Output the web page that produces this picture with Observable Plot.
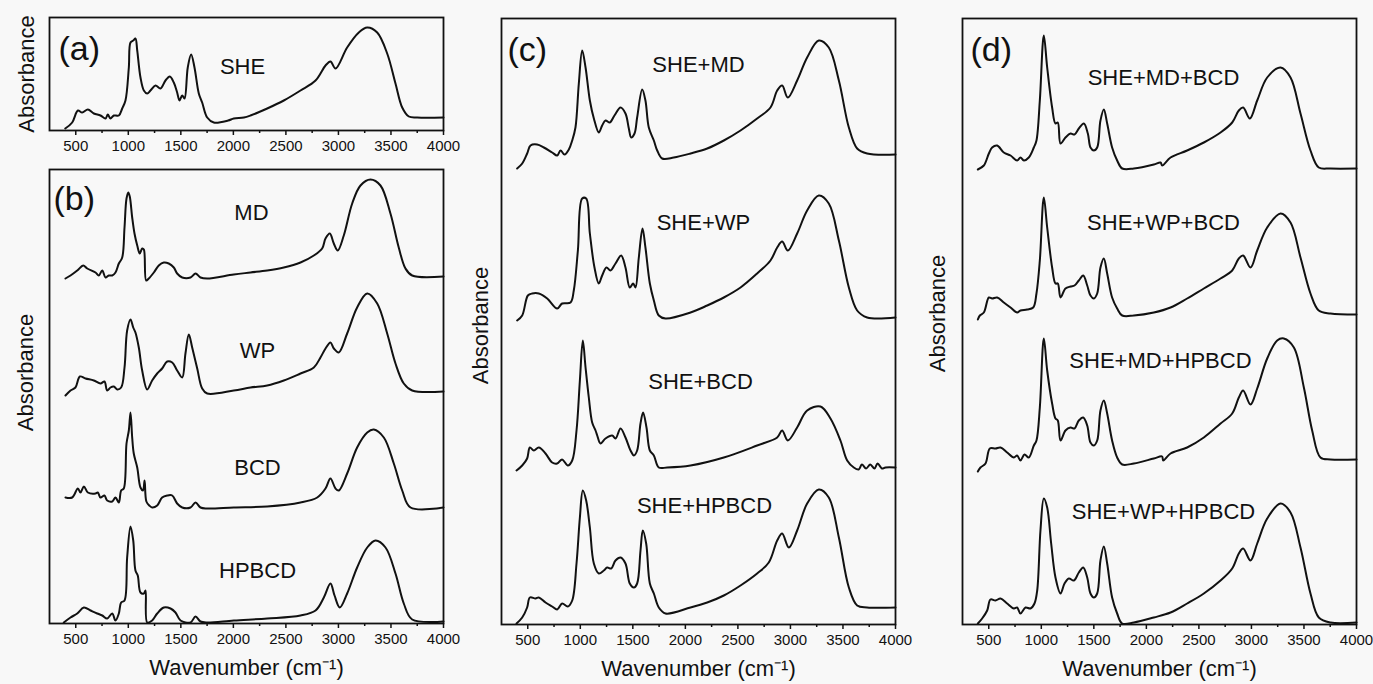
<!DOCTYPE html>
<html><head><meta charset="utf-8">
<script src="https://cdn.jsdelivr.net/npm/d3@7"></script>
<script src="https://cdn.jsdelivr.net/npm/@observablehq/plot@0.6"></script>
<style>
html,body{margin:0;padding:0;background:#f8f8f8;}
#chart{position:relative;width:1373px;height:684px;overflow:hidden;font-family:"Liberation Sans",Arial,Helvetica,sans-serif;}
#chart svg{position:absolute;}
</style></head><body><div id="chart"></div>
<script>
// ---------- data (wavenumber cm-1, absorbance a.u. incl. stacking offset) ----------
const wnDomain = [250, 4000];
const majorTicks = [500, 1000, 1500, 2000, 2500, 3000, 3500, 4000];
const minorTicks = [750, 1250, 1750, 2250, 2750, 3250, 3750];

const SHE = [[400,0.02],[466,0.08],[520,0.20],[561,0.18],[615,0.21],[672,0.17],[735,0.15],[783,0.12],[805,0.16],[830,0.12],[862,0.15],[910,0.15],[942,0.22],[973,0.30],[1005,0.63],[1021,0.88],[1047,0.90],[1068,0.92],[1085,0.80],[1116,0.53],[1148,0.40],[1180,0.37],[1211,0.40],[1259,0.45],[1306,0.42],[1354,0.50],[1395,0.54],[1433,0.48],[1465,0.38],[1487,0.30],[1513,0.35],[1535,0.32],[1566,0.63],[1598,0.76],[1630,0.63],[1671,0.37],[1703,0.28],[1751,0.13],[1814,0.08],[1950,0.10],[2004,0.12],[2100,0.13],[2163,0.15],[2322,0.22],[2480,0.30],[2639,0.40],[2782,0.50],[2877,0.65],[2924,0.69],[2972,0.62],[3083,0.83],[3194,0.98],[3274,1.03],[3369,0.98],[3464,0.77],[3543,0.47],[3607,0.23],[3670,0.14],[3750,0.13],[4000,0.13]];

const MD = [[402,3.45],[450,3.48],[514,3.53],[571,3.58],[609,3.55],[688,3.51],[719,3.48],[752,3.53],[783,3.46],[814,3.48],[847,3.48],[878,3.51],[910,3.60],[942,3.66],[964,3.96],[983,4.25],[1000,4.31],[1014,4.27],[1037,4.06],[1059,3.90],[1085,3.78],[1109,3.70],[1132,3.75],[1148,3.74],[1170,3.43],[1195,3.45],[1243,3.51],[1290,3.58],[1338,3.61],[1385,3.60],[1433,3.56],[1465,3.50],[1513,3.46],[1592,3.46],[1640,3.50],[1687,3.46],[1751,3.45],[2004,3.49],[2163,3.51],[2322,3.53],[2480,3.56],[2639,3.61],[2766,3.68],[2845,3.75],[2877,3.85],[2918,3.90],[2956,3.80],[2994,3.73],[3051,3.88],[3131,4.20],[3210,4.38],[3305,4.44],[3400,4.38],[3495,4.10],[3574,3.76],[3638,3.55],[3702,3.48],[4000,3.47]];

const WP = [[402,2.28],[450,2.33],[497,2.36],[539,2.47],[593,2.45],[672,2.43],[735,2.40],[773,2.42],[799,2.33],[830,2.36],[862,2.37],[894,2.34],[932,2.36],[964,2.56],[989,2.93],[1021,3.04],[1047,2.96],[1068,2.91],[1100,2.76],[1132,2.53],[1180,2.34],[1227,2.43],[1275,2.50],[1322,2.55],[1370,2.62],[1418,2.61],[1465,2.53],[1513,2.46],[1544,2.70],[1576,2.89],[1608,2.76],[1656,2.55],[1703,2.35],[1751,2.30],[2004,2.33],[2163,2.36],[2322,2.38],[2480,2.43],[2639,2.50],[2766,2.56],[2829,2.66],[2877,2.75],[2924,2.81],[2956,2.75],[3003,2.71],[3083,2.90],[3178,3.16],[3274,3.30],[3369,3.20],[3464,2.90],[3543,2.60],[3622,2.40],[3702,2.33],[4000,2.32]];

const BCD = [[402,1.26],[466,1.26],[520,1.35],[545,1.31],[577,1.37],[615,1.31],[688,1.30],[710,1.31],[735,1.26],[773,1.28],[799,1.23],[847,1.22],[878,1.26],[910,1.21],[932,1.33],[957,1.35],[983,1.80],[1005,1.93],[1021,2.11],[1037,1.86],[1052,1.70],[1085,1.56],[1116,1.36],[1140,1.33],[1155,1.43],[1172,1.22],[1200,1.18],[1227,1.16],[1275,1.18],[1322,1.26],[1370,1.28],[1418,1.28],[1465,1.20],[1513,1.16],[1592,1.16],[1640,1.21],[1687,1.16],[1751,1.15],[2004,1.16],[2322,1.17],[2639,1.21],[2798,1.26],[2877,1.35],[2924,1.45],[2972,1.35],[3003,1.33],[3083,1.50],[3178,1.76],[3274,1.91],[3337,1.94],[3432,1.86],[3527,1.60],[3607,1.33],[3686,1.16],[4000,1.16]];

const HPBCD = [[386,0.01],[450,0.06],[514,0.10],[577,0.16],[640,0.13],[704,0.10],[752,0.08],[799,0.05],[847,0.10],[878,0.03],[910,0.10],[932,0.21],[964,0.23],[989,0.66],[1021,0.97],[1047,0.83],[1068,0.53],[1090,0.48],[1116,0.31],[1148,0.30],[1164,0.33],[1180,0.01],[1227,0.03],[1275,0.10],[1338,0.16],[1402,0.15],[1449,0.11],[1497,0.03],[1592,0.01],[1640,0.07],[1687,0.02],[1751,0.01],[2004,0.03],[2322,0.05],[2639,0.08],[2782,0.13],[2861,0.26],[2924,0.40],[2963,0.28],[3013,0.16],[3083,0.30],[3178,0.56],[3274,0.76],[3353,0.83],[3448,0.76],[3543,0.50],[3622,0.20],[3702,0.04],[4000,0.02]];

const SHE_MD = [[399,4.56],[447,4.61],[494,4.71],[526,4.79],[589,4.80],[653,4.77],[732,4.72],[780,4.69],[812,4.74],[850,4.70],[891,4.75],[923,4.84],[954,4.97],[986,5.41],[1018,5.74],[1050,5.57],[1091,5.24],[1129,5.06],[1176,4.92],[1208,4.99],[1240,5.04],[1281,5.02],[1325,5.09],[1383,5.17],[1430,5.11],[1462,4.96],[1484,4.87],[1516,4.91],[1541,5.07],[1589,5.35],[1620,5.24],[1652,4.97],[1700,4.84],[1732,4.74],[1779,4.66],[1890,4.67],[2049,4.71],[2208,4.76],[2366,4.84],[2525,4.94],[2683,5.06],[2810,5.17],[2874,5.34],[2921,5.39],[2975,5.27],[3064,5.44],[3159,5.67],[3270,5.84],[3365,5.77],[3461,5.44],[3556,4.97],[3635,4.76],[3730,4.71],[4000,4.70]];

const SHE_WP = [[399,3.04],[447,3.09],[501,3.29],[542,3.31],[605,3.31],[685,3.26],[780,3.16],[827,3.21],[907,3.22],[938,3.34],[977,3.74],[1018,4.26],[1056,4.26],[1091,3.91],[1135,3.57],[1176,3.41],[1208,3.49],[1249,3.57],[1287,3.54],[1335,3.61],[1389,3.69],[1430,3.57],[1471,3.37],[1503,3.41],[1525,3.37],[1557,3.67],[1592,3.96],[1620,3.77],[1662,3.41],[1700,3.24],[1747,3.09],[1811,3.06],[2049,3.12],[2208,3.19],[2366,3.27],[2525,3.37],[2683,3.51],[2810,3.64],[2874,3.77],[2921,3.83],[2975,3.74],[3064,3.91],[3159,4.14],[3270,4.29],[3365,4.21],[3461,3.84],[3556,3.37],[3635,3.14],[3730,3.07],[4000,3.07]];

const SHE_BCD = [[393,1.54],[447,1.59],[494,1.66],[520,1.77],[558,1.74],[605,1.77],[669,1.71],[732,1.62],[780,1.61],[827,1.65],[881,1.59],[923,1.64],[964,1.94],[996,2.44],[1024,2.84],[1050,2.57],[1081,2.27],[1113,2.02],[1145,1.94],[1161,1.89],[1192,1.81],[1240,1.86],[1303,1.89],[1335,1.86],[1383,1.96],[1430,1.87],[1478,1.74],[1510,1.69],[1541,1.74],[1573,2.01],[1598,2.12],[1630,1.97],[1662,1.74],[1700,1.69],[1747,1.57],[1827,1.57],[2049,1.59],[2366,1.67],[2683,1.79],[2874,1.87],[2921,1.94],[2975,1.84],[3064,1.97],[3159,2.14],[3286,2.18],[3381,2.06],[3476,1.84],[3540,1.64],[3603,1.57],[3650,1.55],[3680,1.60],[3720,1.56],[3760,1.60],[3800,1.56],[3830,1.61],[3870,1.56],[3905,1.57],[4000,1.57]];

const SHE_HPBCD = [[393,0.01],[447,0.07],[494,0.17],[520,0.27],[574,0.26],[605,0.27],[669,0.22],[732,0.18],[780,0.15],[827,0.21],[881,0.18],[923,0.24],[964,0.61],[996,1.07],[1024,1.34],[1056,1.24],[1091,0.97],[1129,0.61],[1176,0.51],[1224,0.54],[1256,0.57],[1294,0.56],[1335,0.64],[1383,0.67],[1430,0.61],[1471,0.41],[1510,0.37],[1541,0.41],[1573,0.74],[1595,0.94],[1627,0.81],[1662,0.41],[1700,0.31],[1747,0.17],[1811,0.11],[2049,0.17],[2208,0.22],[2366,0.29],[2525,0.39],[2683,0.51],[2794,0.62],[2874,0.84],[2921,0.91],[2985,0.77],[3064,0.94],[3159,1.21],[3270,1.35],[3365,1.27],[3461,0.87],[3556,0.37],[3635,0.19],[3730,0.17],[4000,0.17]];

const SHE_MD_BCD = [[396,4.55],[453,4.59],[501,4.71],[532,4.77],[580,4.79],[643,4.72],[707,4.69],[770,4.64],[802,4.67],[834,4.64],[881,4.67],[929,4.77],[954,4.84],[986,5.24],[1024,5.89],[1056,5.57],[1103,5.17],[1135,5.01],[1157,5.02],[1183,4.81],[1230,4.87],[1278,4.91],[1316,4.90],[1357,4.96],[1405,5.01],[1443,4.91],[1468,4.77],[1500,4.74],[1532,4.77],[1563,5.04],[1595,5.15],[1627,5.01],[1674,4.77],[1722,4.64],[1770,4.56],[1881,4.56],[2071,4.60],[2135,4.62],[2150,4.59],[2230,4.67],[2388,4.74],[2547,4.82],[2706,4.92],[2817,5.02],[2880,5.14],[2921,5.17],[2985,5.06],[3055,5.24],[3150,5.47],[3277,5.57],[3372,5.47],[3467,5.11],[3562,4.74],[3641,4.57],[3752,4.56],[4000,4.56]];

const SHE_WP_BCD = [[396,3.05],[415,3.09],[453,3.12],[501,3.27],[532,3.26],[580,3.27],[643,3.22],[707,3.17],[770,3.12],[802,3.14],[865,3.15],[923,3.17],[954,3.31],[986,3.64],[1024,4.27],[1056,3.97],[1103,3.57],[1135,3.41],[1157,3.41],[1183,3.27],[1230,3.36],[1278,3.38],[1316,3.39],[1357,3.44],[1399,3.49],[1437,3.39],[1468,3.29],[1500,3.26],[1532,3.31],[1563,3.57],[1595,3.66],[1627,3.51],[1674,3.27],[1722,3.16],[1770,3.09],[1881,3.09],[2071,3.12],[2230,3.17],[2388,3.26],[2547,3.36],[2706,3.46],[2817,3.54],[2880,3.66],[2921,3.69],[2991,3.57],[3055,3.74],[3150,3.97],[3277,4.11],[3372,4.02],[3467,3.67],[3562,3.31],[3641,3.14],[3752,3.11],[4000,3.10]];

const SHE_MD_HPBCD = [[396,1.53],[421,1.57],[469,1.61],[510,1.76],[564,1.76],[612,1.77],[675,1.72],[739,1.67],[770,1.69],[802,1.64],[840,1.70],[881,1.67],[929,1.79],[954,1.84],[986,2.17],[1024,2.86],[1056,2.54],[1103,2.21],[1135,2.06],[1157,2.04],[1183,1.84],[1230,1.94],[1278,1.97],[1316,1.96],[1357,2.04],[1399,2.07],[1437,1.99],[1468,1.82],[1500,1.79],[1532,1.84],[1563,2.14],[1595,2.24],[1627,2.11],[1674,1.84],[1722,1.67],[1770,1.60],[1881,1.61],[2071,1.66],[2150,1.68],[2160,1.64],[2230,1.71],[2388,1.77],[2547,1.87],[2706,2.01],[2817,2.11],[2880,2.27],[2921,2.34],[2991,2.20],[3055,2.36],[3150,2.66],[3245,2.84],[3308,2.86],[3404,2.77],[3499,2.37],[3578,1.94],[3657,1.67],[3752,1.65],[4000,1.65]];

const SHE_WP_HPBCD = [[396,0.01],[437,0.06],[485,0.14],[516,0.25],[564,0.24],[612,0.26],[675,0.21],[739,0.16],[770,0.17],[802,0.11],[850,0.17],[897,0.16],[935,0.21],[961,0.34],[992,0.94],[1024,1.26],[1056,1.17],[1094,0.81],[1135,0.47],[1183,0.31],[1221,0.41],[1262,0.46],[1310,0.44],[1357,0.52],[1399,0.57],[1437,0.47],[1468,0.31],[1500,0.27],[1532,0.31],[1563,0.64],[1595,0.78],[1627,0.61],[1674,0.27],[1722,0.11],[1770,0.01],[1881,0.02],[2071,0.07],[2230,0.12],[2388,0.21],[2547,0.31],[2706,0.44],[2817,0.56],[2880,0.71],[2921,0.76],[2991,0.64],[3055,0.81],[3150,1.06],[3277,1.21],[3372,1.12],[3467,0.77],[3562,0.31],[3641,0.07],[3752,0.02],[4000,0.02]];

const namesA = ["SHE"];
const namesB = ["MD", "WP", "BCD", "HPBCD"];
const namesC = ["SHE+MD", "SHE+WP", "SHE+BCD", "SHE+HPBCD"];
const namesD = ["SHE+MD+BCD", "SHE+WP+BCD", "SHE+MD+HPBCD", "SHE+WP+HPBCD"];
// label anchors in data units (wavenumber, absorbance)
const anchorsA = [[2087,0.64]];
const anchorsB = [[2172,4.11],[2230,2.73],[2230,1.56],[2230,0.53]];
const anchorsC = [[2125,5.60],[2172,4.02],[2144,2.43],[2182,1.19]];
const anchorsD = [[2163,5.47],[2163,4.02],[2134,2.64],[2163,1.13]];

// ---------- layout ----------
const FONT = '"Liberation Sans", Arial, Helvetica, sans-serif';
const INK = "#111";
const W = 394, mL = 45, mR = 6, mT = 6;
const panels = [
  {tag:"(a)", spectra:[SHE], names:namesA, at:anchorsA, ymax:1.13, left:49, top:17, h:113, xTitle:false, tagDx:9, tagDy:32, yDx:-23, yDy:0},
  {tag:"(b)", spectra:[MD,WP,BCD,HPBCD], names:namesB, at:anchorsB, ymax:4.54, left:49, top:169, h:454, xTitle:true, tagDx:4, tagDy:30, yDx:-24, yDy:-24},
  {tag:"(c)", spectra:[SHE_MD,SHE_WP,SHE_BCD,SHE_HPBCD], names:namesC, at:anchorsC, ymax:6.06, left:501, top:18, h:606, xTitle:true, tagDx:6, tagDy:32, yDx:-21, yDy:4},
  {tag:"(d)", spectra:[SHE_MD_BCD,SHE_WP_BCD,SHE_MD_HPBCD,SHE_WP_HPBCD], names:namesD, at:anchorsD, ymax:6.06, left:962, top:18, h:606, xTitle:true, tagDx:8, tagDy:32, yDx:-25, yDy:-8}
];

const chart = document.getElementById("chart");
for (const p of panels) {
  const mB = p.xTitle ? 62 : 30;
  const labelRows = p.names.map((n, i) => ({n, x: p.at[i][0], y: p.at[i][1]}));
  const marks = [
    ...p.spectra.map(s => Plot.line(s, {x: d => d[0], y: d => d[1], stroke: INK, strokeWidth: 2, curve: "catmull-rom"})),
    Plot.frame({stroke: INK, strokeWidth: 1.8}),
    Plot.axisX({ticks: minorTicks, tickSize: 3, tickFormat: () => "", label: null, strokeWidth: 1.5}),
    Plot.axisX({ticks: majorTicks, tickSize: 5, tickPadding: 5, tickFormat: d => String(d), fontSize: 15, label: null, strokeWidth: 1.5}),
    Plot.text(labelRows, {x: "x", y: "y", text: "n", fontSize: 22, fill: INK}),
    Plot.text([p.tag], {text: d => d, frameAnchor: "top-left", textAnchor: "start", lineAnchor: "middle", dx: p.tagDx, dy: p.tagDy, fontSize: 34, fill: INK}),
    Plot.text(["Absorbance"], {text: d => d, frameAnchor: "left", textAnchor: "middle", lineAnchor: "middle", rotate: -90, dx: p.yDx, dy: p.yDy, fontSize: 22, fill: INK})
  ];
  if (p.xTitle) marks.push(Plot.text(["Wavenumber (cm\u207B\u00B9)"], {text: d => d, frameAnchor: "bottom", lineAnchor: "middle", dy: 44, fontSize: 22, fill: INK}));
  const svg = Plot.plot({
    width: mL + W + mR, height: mT + p.h + mB,
    marginLeft: mL, marginRight: mR, marginTop: mT, marginBottom: mB,
    style: {background: "transparent", fontFamily: FONT, color: INK, overflow: "visible", maxWidth: "none"},
    x: {domain: wnDomain, label: null},
    y: {domain: [0, p.ymax], axis: null, label: null},
    marks
  });
  svg.style.left = (p.left - mL) + "px";
  svg.style.top = (p.top - mT) + "px";
  chart.append(svg);
}
</script></body></html>
